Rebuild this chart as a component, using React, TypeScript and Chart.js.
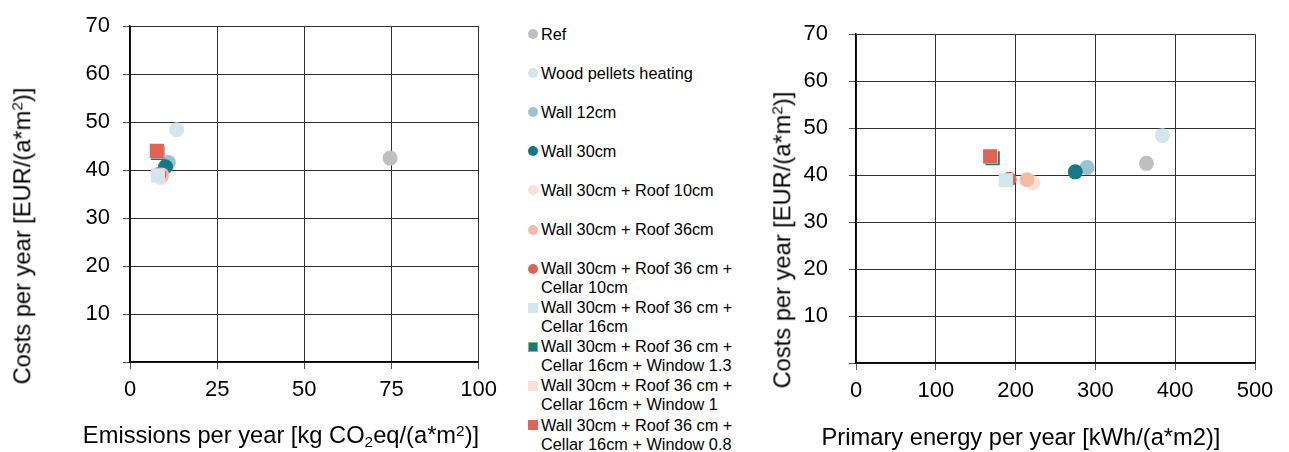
import React, { useEffect, useRef } from 'react';
import { Chart, registerables } from 'chart.js';

Chart.register(...registerables);

const FONT = "'Liberation Sans', Arial, sans-serif";

// ---- data ----
const seriesNames = [
  'Ref',
  'Wood pellets heating',
  'Wall 12cm',
  'Wall 30cm',
  'Wall 30cm + Roof 10cm',
  'Wall 30cm + Roof 36cm',
  'Wall 30cm + Roof 36 cm + Cellar 10cm',
  'Wall 30cm + Roof 36 cm + Cellar 16cm',
  'Wall 30cm + Roof 36 cm + Cellar 16cm + Window 1.3',
  'Wall 30cm + Roof 36 cm + Cellar 16cm + Window 1',
  'Wall 30cm + Roof 36 cm + Cellar 16cm + Window 0.8',
];
const legendLines = [
  ['Ref'],
  ['Wood pellets heating'],
  ['Wall 12cm'],
  ['Wall 30cm'],
  ['Wall 30cm + Roof 10cm'],
  ['Wall 30cm + Roof 36cm'],
  ['Wall 30cm + Roof 36 cm +', 'Cellar 10cm'],
  ['Wall 30cm + Roof 36 cm +', 'Cellar 16cm'],
  ['Wall 30cm + Roof 36 cm +', 'Cellar 16cm + Window 1.3'],
  ['Wall 30cm + Roof 36 cm +', 'Cellar 16cm + Window 1'],
  ['Wall 30cm + Roof 36 cm +', 'Cellar 16cm + Window 0.8'],
];
const emissions = [74.6, 13.4, 11.0, 10.2, 8.8, 9.1, 8.3, 8.0, 8.0, 7.9, 7.7];
const primaryEnergy = [364, 384, 289.5, 274.8, 221.7, 214.2, 192, 187.8, 171.3, 169.1, 168.1];
const costs = [42.5, 48.4, 41.6, 40.7, 38.4, 39.0, 39.1, 38.9, 43.6, 43.9, 44.0];

const emissionTicks = [0, 25, 50, 75, 100];
const energyTicks = [0, 100, 200, 300, 400, 500];
const costTicks = [0, 10, 20, 30, 40, 50, 60, 70];

const colors = ['#BFBFBF', '#D3E6EB', '#9CC3CB', '#17788B', '#FAE0D7', '#F2BBA5', '#E06454', '#D3E6EB', '#17788B', '#FAE0D7', '#E06454'];
const shapes = ['circle', 'circle', 'circle', 'circle', 'circle', 'circle', 'circle', 'rect', 'rect', 'rect', 'rect'];
const legendBorders = ['', '', '', '', '', '', '', '', '#8DB66A', '', ''];

type PanelProps = {
  xs: number[];
  xTicks: number[];
  left: number;
  width: number;
  height: number;
  plotLeft: number;
  plotRight: number;
  plotTop: number;
  plotBottom: number;
  yPad: number;
  xPad: number;
};

function ScatterPanel(p: PanelProps) {
  const ref = useRef<HTMLCanvasElement>(null);
  useEffect(() => {
    const n = seriesNames.length;
    const datasets = seriesNames.map((name, i) => ({
      label: name,
      data: [{ x: p.xs[i], y: costs[i] }],
      order: n - i,
      pointStyle: shapes[i],
      pointRadius: shapes[i] === 'rect' ? 10 : 7.5,
      pointHoverRadius: shapes[i] === 'rect' ? 10 : 7.5,
      backgroundColor: colors[i],
      borderColor: colors[i],
      borderWidth: 0,
    }));
    const gridColor = '#303030';
    const chart = new Chart(ref.current as HTMLCanvasElement, {
      type: 'scatter',
      data: { datasets } as any,
      options: {
        responsive: false,
        animation: false,
        events: [],
        layout: { padding: { top: p.plotTop, right: p.width - p.plotRight, left: 0, bottom: 0 } },
        plugins: { legend: { display: false }, tooltip: { enabled: false } },
        scales: {
          x: {
            type: 'linear',
            min: p.xTicks[0],
            max: p.xTicks[p.xTicks.length - 1],
            afterBuildTicks: (s: any) => {
              s.ticks = p.xTicks.map((v) => ({ value: v }));
            },
            afterFit: (s: any) => {
              s.height = p.height - p.plotBottom;
            },
            ticks: { font: { family: FONT, size: 22 }, color: '#000', padding: p.xPad, maxRotation: 0 },
            grid: { color: gridColor, lineWidth: 1, tickLength: 7, drawTicks: true, tickColor: '#555' },
            border: { display: true, color: '#000', width: 1.5 },
          },
          y: {
            type: 'linear',
            min: costTicks[0],
            max: costTicks[costTicks.length - 1],
            afterBuildTicks: (s: any) => {
              s.ticks = costTicks.map((v) => ({ value: v }));
            },
            afterFit: (s: any) => {
              s.width = p.plotLeft;
            },
            ticks: {
              font: { family: FONT, size: 22 },
              color: '#000',
              padding: p.yPad,
              callback: (v: any) => (Number(v) === 0 ? '' : String(v)),
            },
            grid: { color: gridColor, lineWidth: 1, tickLength: 7, drawTicks: true, tickColor: '#555' },
            border: { display: true, color: '#000', width: 1.5 },
          },
        },
      } as any,
    });
    return () => chart.destroy();
  }, []);
  return (
    <canvas
      ref={ref}
      width={p.width}
      height={p.height}
      style={{ position: 'absolute', left: p.left, top: 0, width: p.width, height: p.height }}
    />
  );
}

const titleStyle: React.CSSProperties = {
  position: 'absolute',
  fontFamily: FONT,
  fontSize: 23.7,
  color: '#000',
  whiteSpace: 'nowrap',
  lineHeight: 1,
};

const supStyle: React.CSSProperties = { fontSize: '0.65em', verticalAlign: '0.5em' };
const subStyle: React.CSSProperties = { fontSize: '0.65em', verticalAlign: '-0.25em' };

function Legend() {
  return (
    <div style={{ position: 'absolute', left: 0, top: 0 }}>
      {legendLines.map((lines, i) => {
        const cy = 34 + i * 39.1;
        const isRect = shapes[i] === 'rect';
        return (
          <div key={i} style={{ position: 'absolute', left: 527, top: cy - 9.5, width: 230 }}>
            <div
              style={{
                position: 'absolute',
                left: 1,
                top: 4.5,
                width: 10,
                height: 10,
                boxSizing: 'border-box',
                borderRadius: isRect ? 0 : 5,
                background: colors[i],
                border: legendBorders[i] ? `1.5px solid ${legendBorders[i]}` : 'none',
              }}
            />
            <div
              style={{
                position: 'absolute',
                left: 14,
                top: 0,
                fontFamily: FONT,
                fontSize: 16.3,
                lineHeight: '19px',
                color: '#000',
                whiteSpace: 'nowrap',
              }}
            >
              {lines.map((l, j) => (
                <div key={j}>{l}</div>
              ))}
            </div>
          </div>
        );
      })}
    </div>
  );
}

export default function App() {
  return (
    <div
      style={{
        position: 'fixed',
        left: 0,
        top: 0,
        width: 1289,
        height: 452,
        background: '#fff',
        overflow: 'hidden',
      }}
    >
      <ScatterPanel
        xs={emissions}
        xTicks={emissionTicks}
        left={0}
        width={505}
        height={452}
        plotLeft={130}
        plotRight={479}
        plotTop={21}
        plotBottom={362}
        yPad={13}
        xPad={8}
      />
      <ScatterPanel
        xs={primaryEnergy}
        xTicks={energyTicks}
        left={760}
        width={529}
        height={452}
        plotLeft={96}
        plotRight={495}
        plotTop={21}
        plotBottom={363}
        yPad={21}
        xPad={8}
      />
      <Legend />
      <div style={{ ...titleStyle, left: 22, top: 236, transform: 'translate(-50%, -50%) rotate(-90deg)' }}>
        Costs per year [EUR/(a*m<sup style={supStyle}>2</sup>)]
      </div>
      <div style={{ ...titleStyle, left: 782, top: 240, transform: 'translate(-50%, -50%) rotate(-90deg)' }}>
        Costs per year [EUR/(a*m<sup style={supStyle}>2</sup>)]
      </div>
      <div style={{ ...titleStyle, left: 281, top: 436, transform: 'translate(-50%, -50%)' }}>
        Emissions per year [kg CO<sub style={subStyle}>2</sub>eq/(a*m<sup style={supStyle}>2</sup>)]
      </div>
      <div style={{ ...titleStyle, left: 1021, top: 438, transform: 'translate(-50%, -50%)' }}>
        Primary energy per year [kWh/(a*m2)]
      </div>
    </div>
  );
}
